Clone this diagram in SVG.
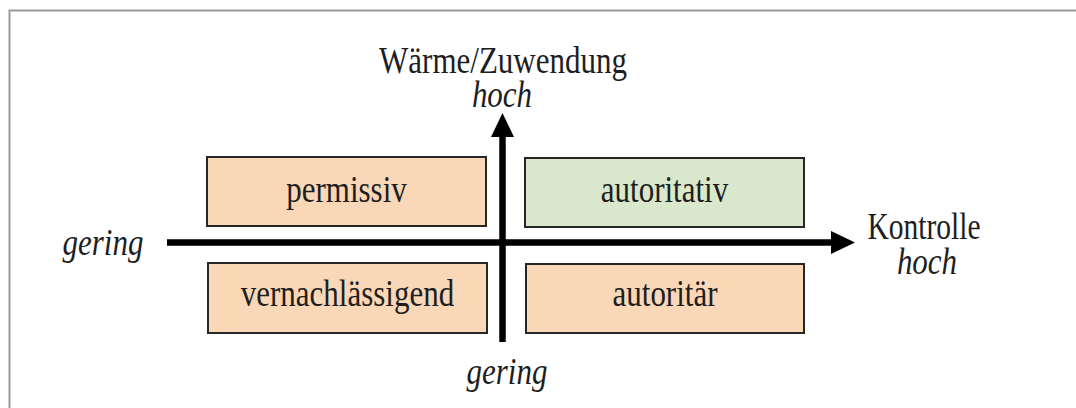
<svg xmlns="http://www.w3.org/2000/svg" width="1076" height="408" viewBox="0 0 1076 408">
<style>
.t{font-family:"Liberation Serif","Times New Roman",serif;font-size:31px;fill:#1e1e1e;text-anchor:middle}
.i{font-style:italic}
.box{stroke:#262626;stroke-width:2}
.peach{fill:#F9D7B7}
.green{fill:#D9E8CC}
.ax{stroke:#000;stroke-width:6.5;fill:none}
</style>
<rect width="1076" height="408" fill="#fff"/>
<g id="frame">
<path d="M9.5 408 V10.5 H1076" fill="none" stroke="#9a9a9a" stroke-width="2"/>
</g>
<g id="connectors">
<line class="ax" x1="167" y1="242.5" x2="833" y2="242.5"/>
<polygon points="831,231 855,242.5 831,254" fill="#000"/>
<line class="ax" x1="502.5" y1="342" x2="502.5" y2="135"/>
<polygon points="491,137 502.5,113 514,137" fill="#000"/>
</g>
<g id="axis-y-label">
<text class="t" transform="translate(503,73) scale(1,1.25)">Wärme/Zuwendung</text>
<text class="t i" transform="translate(502,107) scale(1,1.25)">hoch</text>
</g>
<g id="axis-y-low">
<text class="t i" transform="translate(507,384) scale(1,1.25)">gering</text>
</g>
<g id="axis-x-low">
<text class="t i" transform="translate(103,255) scale(1,1.25)">gering</text>
</g>
<g id="axis-x-label">
<text class="t" style="font-size:29.5px" transform="translate(924,239) scale(1,1.25)">Kontrolle</text>
<text class="t i" transform="translate(927,274) scale(1,1.25)">hoch</text>
</g>
<g id="permissiv">
<rect class="box peach" x="207" y="157" width="279" height="69"/>
<text class="t" transform="translate(346.5,202) scale(1,1.25)">permissiv</text>
</g>
<g id="autoritativ">
<rect class="box green" x="525" y="158" width="279" height="69"/>
<text class="t" transform="translate(664.5,202) scale(1,1.25)">autoritativ</text>
</g>
<g id="vernachlaessigend">
<rect class="box peach" x="208" y="263" width="279" height="70"/>
<text class="t" transform="translate(347.5,306) scale(1,1.25)">vernachlässigend</text>
</g>
<g id="autoritaer">
<rect class="box peach" x="526" y="264" width="278" height="69"/>
<text class="t" transform="translate(665,306) scale(1,1.25)">autoritär</text>
</g>
</svg>
